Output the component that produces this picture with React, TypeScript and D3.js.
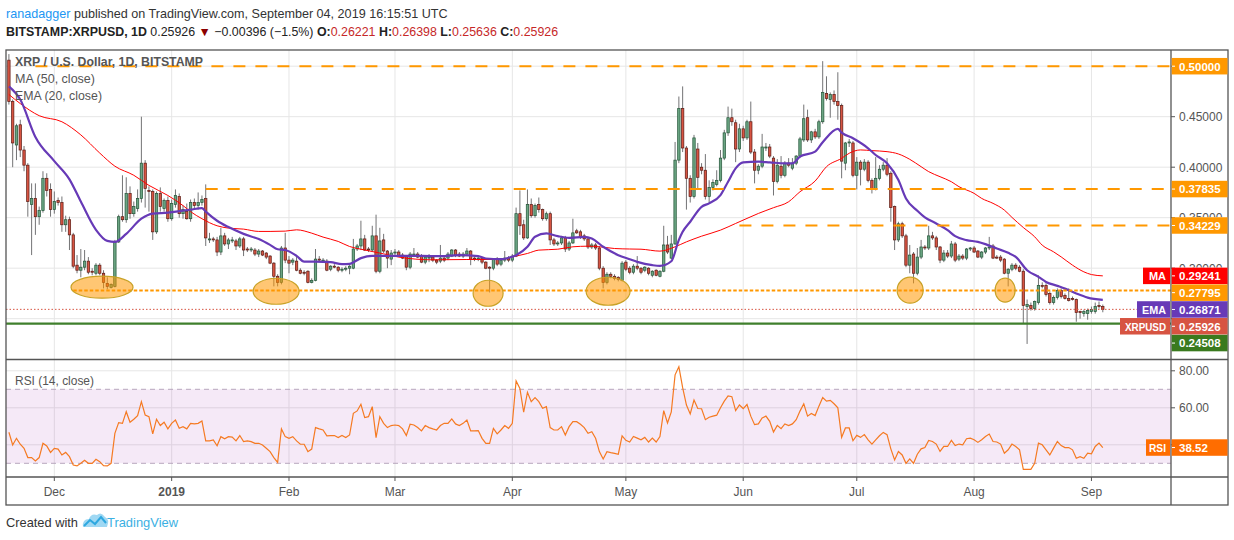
import React from 'react';
import * as d3 from 'd3';

// ---------- DATA ----------
const START = Date.UTC(2018, 10, 19); // first visible daily candle: 19 Nov 2018
const DAY = 86400000;

// daily candles [open, high, low, close]
const candleOHLC: number[][] = [
  [.506, .512, .462, .465], [.465, .467, .400, .424], [.422, .443, .407, .441], [.442, .447, .410, .417],
  [.417, .421, .396, .402], [.402, .404, .351, .366], [.363, .384, .313, .369], [.369, .384, .333, .351],
  [.351, .361, .343, .357], [.357, .396, .355, .389], [.389, .394, .371, .377], [.378, .384, .351, .358],
  [.358, .376, .354, .366], [.367, .370, .362, .365], [.365, .371, .336, .343], [.343, .352, .336, .348],
  [.348, .351, .318, .333], [.333, .335, .300, .302], [.303, .313, .295, .298], [.298, .319, .291, .301],
  [.301, .318, .298, .307], [.307, .311, .294, .296], [.297, .300, .293, .296], [.295, .305, .293, .303],
  [.303, .305, .293, .295], [.295, .298, .280, .286], [.285, .291, .279, .282], [.281, .285, .280, .284],
  [.282, .328, .281, .326], [.326, .353, .325, .351], [.351, .392, .346, .348], [.348, .390, .345, .374],
  [.374, .381, .349, .354], [.354, .366, .351, .361], [.359, .378, .356, .369], [.369, .450, .365, .404],
  [.404, .407, .360, .379], [.377, .381, .356, .376], [.376, .378, .328, .336], [.336, .376, .334, .374],
  [.374, .380, .356, .361], [.359, .369, .356, .367], [.367, .371, .346, .349], [.349, .368, .347, .364],
  [.363, .378, .360, .372], [.371, .374, .350, .354], [.354, .362, .349, .358], [.356, .364, .348, .349],
  [.349, .368, .346, .365], [.365, .369, .358, .362], [.362, .375, .358, .365], [.365, .372, .362, .368],
  [.369, .383, .322, .330], [.329, .335, .325, .329], [.329, .331, .326, .328], [.328, .331, .312, .316],
  [.316, .340, .313, .332], [.332, .335, .322, .324], [.324, .330, .319, .328], [.328, .331, .325, .328],
  [.327, .329, .318, .322], [.322, .331, .320, .329], [.329, .331, .312, .318], [.319, .321, .316, .318],
  [.319, .321, .316, .319], [.318, .320, .312, .314], [.314, .319, .311, .317], [.317, .318, .312, .313],
  [.315, .316, .309, .311], [.312, .313, .304, .305], [.305, .306, .282, .292], [.292, .294, .282, .286],
  [.286, .322, .284, .320], [.320, .335, .305, .308], [.308, .312, .295, .305], [.306, .310, .303, .308],
  [.307, .312, .297, .298], [.298, .300, .294, .295], [.296, .298, .293, .295], [.297, .298, .285, .286],
  [.286, .290, .285, .288], [.288, .319, .287, .309], [.309, .312, .306, .308], [.308, .310, .306, .308],
  [.307, .309, .297, .298], [.299, .303, .297, .302], [.302, .304, .300, .301], [.301, .302, .296, .298],
  [.298, .301, .296, .299], [.299, .302, .297, .300], [.300, .303, .294, .302], [.300, .329, .299, .319],
  [.319, .324, .317, .322], [.322, .347, .318, .329], [.329, .333, .317, .318], [.319, .321, .316, .318],
  [.318, .342, .316, .332], [.332, .353, .295, .297], [.297, .340, .295, .327], [.328, .334, .315, .317],
  [.317, .318, .300, .310], [.309, .318, .303, .315], [.315, .319, .312, .316], [.316, .318, .311, .312],
  [.313, .315, .309, .310], [.312, .313, .298, .301], [.301, .316, .299, .314], [.313, .320, .311, .314],
  [.314, .316, .310, .311], [.312, .314, .305, .306], [.306, .313, .304, .311], [.310, .314, .306, .311],
  [.311, .312, .306, .308], [.308, .309, .304, .306], [.307, .323, .305, .310], [.310, .312, .306, .308],
  [.310, .316, .308, .314], [.312, .319, .311, .318], [.318, .319, .311, .313], [.314, .316, .311, .312],
  [.312, .316, .310, .314], [.314, .320, .312, .317], [.317, .318, .303, .309], [.310, .311, .307, .309],
  [.309, .312, .307, .310], [.310, .311, .304, .306], [.306, .307, .299, .300], [.301, .302, .276, .300],
  [.300, .310, .298, .309], [.309, .311, .302, .304], [.304, .309, .302, .308], [.308, .317, .306, .310],
  [.310, .312, .306, .308], [.308, .314, .306, .312], [.312, .360, .311, .354], [.354, .377, .333, .342],
  [.343, .348, .328, .330], [.330, .378, .329, .363], [.363, .369, .350, .352], [.352, .364, .350, .362],
  [.363, .370, .355, .358], [.358, .359, .347, .349], [.349, .356, .347, .354], [.354, .356, .323, .328],
  [.328, .330, .322, .324], [.324, .327, .322, .325], [.325, .332, .323, .330], [.330, .332, .316, .319],
  [.319, .327, .317, .325], [.325, .349, .324, .335], [.337, .339, .334, .335], [.336, .338, .329, .331],
  [.332, .334, .327, .329], [.329, .330, .319, .321], [.321, .325, .319, .323], [.323, .325, .318, .320],
  [.320, .322, .298, .300], [.300, .302, .280, .286], [.286, .296, .284, .294], [.294, .296, .290, .292],
  [.292, .294, .288, .290], [.291, .292, .287, .289], [.288, .307, .287, .305], [.306, .308, .297, .299],
  [.300, .302, .294, .296], [.296, .304, .294, .302], [.302, .312, .298, .300], [.300, .301, .294, .296],
  [.298, .302, .296, .301], [.300, .301, .293, .295], [.293, .298, .291, .297], [.298, .299, .292, .293],
  [.292, .298, .291, .297], [.297, .342, .296, .323], [.323, .332, .314, .316], [.310, .333, .309, .324],
  [.324, .425, .323, .407], [.407, .470, .404, .458], [.458, .480, .415, .419], [.419, .421, .358, .389],
  [.389, .392, .365, .371], [.371, .432, .369, .429], [.418, .424, .379, .390], [.400, .404, .393, .397],
  [.397, .413, .368, .371], [.371, .387, .364, .380], [.380, .388, .377, .385], [.383, .397, .381, .387],
  [.387, .417, .385, .409], [.409, .437, .407, .434], [.434, .460, .431, .449], [.449, .458, .441, .445],
  [.444, .447, .405, .418], [.418, .443, .415, .438], [.438, .441, .426, .429], [.429, .447, .427, .445],
  [.445, .465, .413, .415], [.415, .418, .384, .397], [.397, .403, .393, .401], [.401, .433, .399, .420],
  [.419, .424, .416, .420], [.420, .423, .409, .411], [.409, .411, .372, .386], [.386, .408, .384, .402],
  [.401, .411, .389, .392], [.392, .406, .390, .404], [.404, .409, .400, .402], [.399, .409, .397, .404],
  [.404, .412, .402, .411], [.411, .430, .409, .428], [.427, .462, .425, .448], [.449, .457, .425, .427],
  [.427, .436, .424, .435], [.435, .438, .428, .430], [.430, .447, .428, .445], [.445, .505, .443, .474],
  [.473, .490, .466, .468], [.467, .474, .449, .472], [.472, .476, .462, .465], [.465, .494, .447, .461],
  [.461, .463, .389, .406], [.404, .425, .397, .424], [.424, .428, .420, .425], [.424, .426, .390, .392],
  [.392, .410, .378, .405], [.405, .407, .382, .398], [.398, .408, .396, .405], [.405, .407, .385, .387],
  [.387, .389, .374, .378], [.379, .410, .377, .389], [.389, .402, .387, .398], [.398, .405, .396, .402],
  [.402, .409, .391, .393], [.394, .396, .346, .360], [.361, .362, .318, .328], [.328, .346, .326, .344],
  [.344, .346, .330, .332], [.332, .334, .301, .303], [.303, .323, .295, .313], [.314, .316, .285, .295],
  [.295, .320, .293, .311], [.311, .328, .309, .321], [.321, .323, .318, .320], [.320, .342, .318, .332],
  [.332, .336, .328, .330], [.330, .332, .318, .321], [.321, .322, .305, .308], [.308, .318, .306, .315],
  [.315, .318, .310, .312], [.312, .327, .310, .324], [.324, .326, .306, .308], [.309, .314, .307, .312],
  [.312, .314, .308, .310], [.310, .320, .308, .319], [.319, .321, .317, .320], [.320, .322, .315, .316],
  [.317, .318, .310, .311], [.311, .317, .309, .316], [.316, .321, .314, .320], [.320, .331, .318, .321],
  [.322, .324, .309, .310], [.311, .313, .309, .310], [.311, .313, .306, .308], [.309, .310, .294, .295],
  [.295, .300, .282, .299], [.299, .305, .297, .303], [.303, .305, .298, .300], [.301, .303, .296, .297],
  [.297, .299, .245, .263], [.262, .269, .225, .264], [.263, .266, .258, .260], [.260, .268, .258, .267],
  [.266, .293, .264, .283], [.283, .286, .280, .282], [.283, .285, .272, .274], [.275, .277, .264, .266],
  [.266, .273, .264, .271], [.271, .280, .269, .278], [.278, .280, .270, .272], [.273, .275, .269, .270],
  [.270, .280, .267, .268], [.270, .272, .268, .269], [.269, .270, .247, .256], [.257, .258, .250, .256],
  [.255, .259, .252, .257], [.255, .260, .249, .258], [.257, .262, .255, .259], [.257, .266, .255, .262],
  [.263, .267, .260, .262], [.26221, .26398, .25636, .25926],
];

// MA(50) line read at [day index, value]
const maPoints: [number, number][] = [
  [0, .472], [3, .463], [8, .451], [14, .445], [19, .432], [24, .414], [28, .401], [33, .392], [37, .382],
  [42, .372], [46, .362], [48, .356], [51, .349], [55, .342], [58, .3397], [62, .3387], [66, .3364],
  [69, .3364], [73, .3367], [76, .338], [80, .3347], [83, .3308], [87, .3265], [90, .3215], [93, .3188],
  [96, .3165], [99, .3142], [103, .311], [112, .3083], [121, .3086], [130, .3086], [133, .3112],
  [137, .3146], [140, .3179], [145, .3188], [149, .3212], [153, .3218], [156, .3212], [160, .3195],
  [164, .319], [167, .3188], [172, .3169], [176, .3212], [179, .3261], [183, .3317], [188, .3377],
  [192, .3443], [195, .3493], [198, .3542], [202, .3599], [206, .3658], [209, .3757], [213, .3863],
  [216, .4005], [220, .4088], [222, .4138], [225, .4171], [228, .4164], [232, .4154], [235, .4131],
  [238, .4078], [241, .4005], [243, .3956], [246, .3906], [249, .3856], [251, .3807], [255, .3741],
  [257, .3691], [260, .3642], [263, .3575], [265, .3503], [268, .3403], [271, .3311], [273, .3228],
  [276, .3162], [278, .3112], [281, .303], [284, .2964], [286, .2937], [289, .29241],
];

// EMA(20) line read at [day index, value]
const emaPoints: [number, number][] = [
  [0, .480], [3, .467], [7, .430], [12, .406], [16, .388], [19, .366], [23, .338], [26, .327], [28, .326],
  [31, .334], [35, .349], [38, .354], [42, .355], [46, .357], [48, .358], [51, .3595], [52, .356],
  [55, .347], [58, .3407], [62, .334], [66, .3288], [69, .3231], [71, .3188], [73, .318], [76, .3122],
  [78, .3066], [81, .3066], [85, .306], [88, .304], [90, .3043], [93, .310], [96, .3122], [99, .3122],
  [105, .3122], [109, .3122], [114, .3119], [119, .3129], [124, .3119], [126, .3096], [130, .3089],
  [132, .3103], [134, .3129], [137, .3212], [139, .3311], [142, .3344], [145, .3317], [148, .3301],
  [152, .3311], [154, .3294], [157, .3212], [161, .3129], [164, .3089], [166, .3063], [170, .303],
  [172, .3023], [175, .3069], [177, .328], [178, .336], [180, .346], [183, .3608], [185, .3642],
  [188, .3724], [190, .3856], [192, .3989], [194, .4048], [198, .4055], [201, .4048], [205, .4038],
  [207, .4038], [209, .4105], [213, .4154], [215, .4247], [219, .4379], [220, .4343], [223, .4286],
  [227, .4187], [229, .4121], [232, .4038], [235, .3873], [237, .3691], [240, .3569], [242, .3503],
  [245, .3443], [248, .3377], [250, .3317], [253, .3278], [256, .3261], [258, .3238], [261, .3195],
  [264, .3152], [266, .3112], [269, .298], [272, .2914], [274, .2864], [277, .2825], [279, .2798],
  [282, .2749], [285, .2709], [289, .26871],
];

// RSI(14) one value per candle
const rsiValues: number[] = [
  46.8, 39.9, 43.5, 40.3, 38.1, 33.1, 33.1, 31.3, 33.1, 40.8,
  39.4, 35.9, 38.1, 37.7, 34.5, 35.9, 33.6, 29.1, 28.6, 30.0,
  31.6, 30.0, 30.0, 32.2, 30.9, 28.7, 28.6, 30.0, 46.2, 52.0,
  51.6, 57.9, 52.2, 53.8, 55.8, 63.3, 56.1, 55.2, 45.9, 53.8,
  50.4, 52.2, 48.6, 51.6, 53.4, 48.9, 49.8, 48.6, 51.6, 51.3,
  51.6, 52.9, 42.1, 42.1, 42.6, 39.5, 44.4, 43.2, 44.4, 44.2,
  42.1, 45.0, 41.7, 42.1, 41.7, 40.8, 40.8, 39.9, 38.1, 36.3,
  33.1, 30.5, 48.6, 44.4, 43.5, 44.4, 42.1, 40.3, 40.3, 36.3,
  37.7, 49.3, 48.6, 48.0, 44.8, 45.0, 45.0, 43.9, 45.0, 43.9,
  45.3, 57.0, 58.3, 61.9, 54.7, 55.2, 60.6, 43.9, 55.2, 51.6,
  49.3, 50.4, 50.7, 50.4, 48.6, 45.0, 51.1, 50.7, 49.3, 47.5,
  50.4, 49.3, 48.6, 48.0, 50.4, 51.6, 51.6, 54.0, 51.3, 50.4,
  51.6, 53.4, 47.5, 47.5, 47.7, 43.5, 40.8, 40.8, 48.9, 45.9,
  48.0, 50.4, 48.9, 51.6, 74.5, 70.5, 57.6, 68.4, 63.3, 65.5,
  63.3, 59.7, 60.6, 49.3, 48.0, 48.0, 49.8, 45.3, 49.8, 52.5,
  52.5, 51.1, 49.3, 46.2, 47.1, 43.5, 36.3, 32.3, 36.3, 35.8,
  35.4, 34.9, 44.8, 42.4, 41.5, 44.5, 43.6, 42.7, 44.0, 41.5,
  43.6, 41.5, 44.5, 58.5, 51.8, 57.8, 77.8, 82.2, 70.9, 61.5,
  56.7, 64.2, 59.6, 59.5, 53.6, 54.9, 55.5, 56.0, 60.0, 63.6,
  66.4, 66.0, 58.5, 61.5, 59.6, 61.8, 55.5, 50.9, 51.3, 54.5,
  55.5, 52.7, 46.9, 50.5, 48.7, 51.3, 50.4, 51.3, 53.6, 58.2,
  62.2, 55.5, 56.9, 55.8, 60.9, 65.5, 63.6, 64.0, 62.2, 60.0,
  44.0, 49.1, 49.1, 42.2, 45.1, 44.0, 45.5, 42.7, 40.4, 42.7,
  44.9, 46.7, 45.5, 37.8, 31.8, 36.4, 34.5, 30.0, 32.4, 30.0,
  34.9, 37.8, 38.5, 42.4, 41.8, 40.4, 36.4, 39.1, 39.1, 42.4,
  39.6, 40.4, 40.0, 43.3, 43.6, 42.7, 41.3, 42.7, 44.5, 45.8,
  41.8, 41.5, 40.4, 35.5, 37.3, 40.4, 39.1, 37.3, 26.7, 26.7,
  26.7, 30.0, 40.9, 40.0, 37.3, 34.5, 38.2, 41.8, 39.6, 38.5,
  38.5, 37.3, 32.7, 33.6, 32.7, 35.5, 35.1, 39.1, 40.9, 38.52,
];

const priceTicks = [0.25, 0.30, 0.35, 0.40, 0.45, 0.50];
const rsiTicks = [40, 60, 80];

// horizontal drawn levels: [price, first day]
const dashedLevels: [number, number][] = [[0.5, 7], [0.37835, 52], [0.34229, 193]];
const dottedLevel: [number, number] = [0.27795, 17];
const supportLevel = 0.24508;
const lastPrice = 0.25926;
const lastRsi = 38.52;

// highlighted touches: [day, price, rx, ry]
const touchEllipses: [number, number, number, number][] = [
  [24.6, 0.2812, 31, 11], [70.6, 0.2772, 23, 13], [126.6, 0.2752, 15, 13],
  [158.3, 0.2772, 22, 14], [238.1, 0.2782, 13, 13], [263.2, 0.2782, 10, 12],
];

const axisTags = [
  { value: 0.5, text: '0.50000', color: '#ff9800', tag: '', tagW: 0, tagT: 0 },
  { value: 0.37835, text: '0.37835', color: '#ff9800', tag: '', tagW: 0, tagT: 0 },
  { value: 0.34229, text: '0.34229', color: '#ff9800', tag: '', tagW: 0, tagT: 0 },
  { value: 0.29241, text: '0.29241', color: '#ff0000', tag: 'MA', tagW: 27, tagT: 17 },
  { value: 0.27795, text: '0.27795', color: '#ff9800', tag: '', tagW: 0, tagT: 0 },
  { value: 0.26871, text: '0.26871', color: '#673ab7', tag: 'EMA', tagW: 33, tagT: 24 },
  { value: 0.25926, text: '0.25926', color: '#d75442', tag: 'XRPUSD', tagW: 50, tagT: 41 },
  { value: 0.24508, text: '0.24508', color: '#3a7a1e', tag: '', tagW: 0, tagT: 0 },
];

// ---------- LAYOUT ----------
const W = 1234, H = 540;
const L = 6, R = 1228, AX = 1171;
const TOP = 50, SEP1 = 359.5, SEP2 = 477, BOT = 505;
const FONT = '"Liberation Sans", Arial, sans-serif';

const dayDate = (i: number) => new Date(START + i * DAY);
const x = d3.scaleUtc().domain([dayDate(0), dayDate(289)]).range([8.9, 1102.8]);
const xd = (i: number) => x(dayDate(i));
const y = d3.scaleLinear().domain([0.30, 0.50]).range([268.2, 66.2]);
const ry = d3.scaleLinear().domain([30, 70]).range([463.3, 389.3]);

const months = d3.utcMonth.range(dayDate(0), dayDate(300)).filter(m => x(m) < AX - 10);
const monthFmt = (m: Date) => (m.getUTCMonth() === 0 ? d3.utcFormat('%Y')(m) : d3.utcFormat('%b')(m));

const lineGen = d3.line<[number, number]>().x(d => xd(d[0])).y(d => y(d[1])).curve(d3.curveMonotoneX);
const rsiLine = d3.line<number>().x((_, i) => xd(i)).y(v => ry(v));

// label stacking
const LH = 16.5;
const stacked = (() => {
  const items = axisTags.map(t => ({ ...t, yy: y(t.value) })).sort((a, b) => a.yy - b.yy);
  for (let i = 1; i < items.length; i++) {
    if (items[i].yy < items[i - 1].yy + LH + 0.3) items[i].yy = items[i - 1].yy + LH + 0.3;
  }
  return items;
})();
const rsiBox = { top: ry(lastRsi) - LH / 2, bottom: ry(lastRsi) + LH / 2 };

// visible part of an axis tick label given the tag boxes (returns clip bottom or null when hidden)
function tickClip(yy: number, boxes: { top: number; bottom: number }[]): number | null {
  let clipBottom = yy + 8;
  for (const b of boxes) {
    if (b.bottom > yy - 7 && b.top < yy + 7) {
      if (b.top <= yy - 3) return null;
      clipBottom = Math.min(clipBottom, b.top);
    }
  }
  return clipBottom;
}
const priceBoxes = stacked.map(t => ({ top: t.yy - LH / 2, bottom: t.yy + LH / 2 }));

export default function App() {
  const bw = 2.4;
  return (
    <svg width={W} height={H} style={{ position: 'absolute', left: 0, top: 0, background: '#fff' }}
      fontFamily={FONT}>
      <defs>
        <clipPath id="pp"><rect x={L} y={TOP} width={AX - L} height={SEP1 - TOP} /></clipPath>
        <clipPath id="rp"><rect x={L} y={SEP1} width={AX - L} height={SEP2 - SEP1} /></clipPath>
      </defs>
      <rect x={0} y={0} width={W} height={H} fill="#fff" />

      {/* header */}
      <text x={6} y={18} fontSize={12.6}>
        <tspan fill="#2196f3">ranadagger</tspan>
        <tspan fill="#333"> published on TradingView.com, September 04, 2019 16:15:51 UTC</tspan>
      </text>
      <text x={6} y={36} fontSize={12.4} fill="#222">
        <tspan fontWeight="bold">BITSTAMP:XRPUSD, 1D</tspan>
        <tspan> 0.25926 </tspan>
        <tspan fill="#8b0000">▼</tspan>
        <tspan> −0.00396 (−1.5%) </tspan>
        <tspan fontWeight="bold">O:</tspan><tspan fill="#c62828">0.26221</tspan>
        <tspan fontWeight="bold"> H:</tspan><tspan fill="#c62828">0.26398</tspan>
        <tspan fontWeight="bold"> L:</tspan><tspan fill="#c62828">0.25636</tspan>
        <tspan fontWeight="bold"> C:</tspan><tspan fill="#c62828">0.25926</tspan>
      </text>

      {/* grid */}
      <g stroke="#e6e6e6" strokeWidth={1}>
        {months.map(m => (
          <line key={+m} x1={x(m)} x2={x(m)} y1={TOP} y2={SEP2} />
        ))}
        {priceTicks.map(p => (
          <line key={p} x1={L} x2={AX} y1={y(p)} y2={y(p)} />
        ))}
        {rsiTicks.map(v => (
          <line key={v} x1={L} x2={AX} y1={ry(v)} y2={ry(v)} />
        ))}
      </g>

      {/* RSI band */}
      <rect x={L} y={ry(70)} width={AX - L} height={ry(30) - ry(70)} fill="#9c27b0" fillOpacity={0.1} />
      <g stroke="#b7a7bd" strokeDasharray="5,4" strokeWidth={1}>
        <line x1={L} x2={AX} y1={ry(70)} y2={ry(70)} />
        <line x1={L} x2={AX} y1={ry(30)} y2={ry(30)} />
      </g>
      <g clipPath="url(#rp)">
        <path d={rsiLine(rsiValues) || ''} fill="none" stroke="#f57a22" strokeWidth={1.2} />
      </g>

      {/* price pane */}
      <g clipPath="url(#pp)">
        {candleOHLC.map((c, i) => {
          const [o, h, l, cl] = c;
          const up = cl >= o;
          const cx = xd(i);
          const top = y(Math.max(o, cl));
          const hh = Math.max(1, Math.abs(y(o) - y(cl)));
          return (
            <g key={i}>
              <line x1={cx} x2={cx} y1={y(h)} y2={y(l)} stroke="#737375" strokeWidth={1} />
              <rect x={cx - bw / 2} y={top} width={bw} height={hh}
                fill={up ? '#6ba583' : '#d75442'} stroke={up ? '#225437' : '#5b1a13'} strokeWidth={0.7} />
            </g>
          );
        })}
        <path d={lineGen(maPoints) || ''} fill="none" stroke="#ff0000" strokeWidth={1} />
        <path d={lineGen(emaPoints) || ''} fill="none" stroke="#673ab7" strokeWidth={2.2} />

        {dashedLevels.map(([p, d0]) => (
          <line key={p} x1={xd(d0)} x2={AX} y1={y(p)} y2={y(p)} stroke="#ff9800" strokeWidth={2}
            strokeDasharray="12,10" />
        ))}
        <line x1={xd(dottedLevel[1])} x2={AX} y1={y(dottedLevel[0])} y2={y(dottedLevel[0])}
          stroke="#ff9800" strokeWidth={2} strokeDasharray="3.5,2" />
        <line x1={L} x2={AX} y1={y(supportLevel)} y2={y(supportLevel)} stroke="#3f7f2c" strokeWidth={2.4} />
        <line x1={L} x2={AX} y1={y(lastPrice)} y2={y(lastPrice)} stroke="#d75442" strokeWidth={1}
          strokeDasharray="1.5,2" />
        {touchEllipses.map(([d, p, rx, ryy], i) => (
          <ellipse key={i} cx={xd(d)} cy={y(p)} rx={rx} ry={ryy} fill="#ff9800" fillOpacity={0.55}
            stroke="#c9a227" strokeWidth={1.2} />
        ))}
      </g>

      {/* legends */}
      <text x={15} y={66} fontSize={13} fill="#555" fontWeight="bold" textLength={188}
        lengthAdjust="spacingAndGlyphs">XRP / U.S. Dollar, 1D, BITSTAMP</text>
      <text x={15} y={83} fontSize={13} fill="#555" textLength={80} lengthAdjust="spacingAndGlyphs">MA (50, close)</text>
      <text x={15} y={100} fontSize={13} fill="#555" textLength={87} lengthAdjust="spacingAndGlyphs">EMA (20, close)</text>
      <text x={15} y={385} fontSize={13} fill="#555" textLength={79} lengthAdjust="spacingAndGlyphs">RSI (14, close)</text>

      {/* frame */}
      <g stroke="#555" strokeWidth={1.3} fill="none">
        <rect x={L} y={TOP} width={R - L} height={BOT - TOP} />
        <line x1={AX} x2={AX} y1={TOP} y2={BOT} />
        <line x1={L} x2={R} y1={SEP1} y2={SEP1} />
        <line x1={L} x2={R} y1={SEP2} y2={SEP2} />
      </g>

      {/* time axis */}
      {months.map(m => (
        <g key={+m}>
          <line x1={x(m)} x2={x(m)} y1={SEP2} y2={SEP2 + 4} stroke="#555" />
          <text x={x(m)} y={496} fontSize={12} fill="#555" textAnchor="middle"
            fontWeight={m.getUTCMonth() === 0 ? 'bold' : 'normal'}>{monthFmt(m)}</text>
        </g>
      ))}

      {/* price axis ticks */}
      {priceTicks.map(p => {
        const cb = tickClip(y(p), priceBoxes);
        return (
          <g key={p}>
            <line x1={AX} x2={AX + 4} y1={y(p)} y2={y(p)} stroke="#555" />
            {cb !== null && (
              <g>
                <clipPath id={`tc${p}`}><rect x={AX + 2} y={y(p) - 9} width={60} height={cb - (y(p) - 9)} /></clipPath>
                <text x={1179} y={y(p) + 4.5} fontSize={12} fill="#555" clipPath={`url(#tc${p})`}>{p.toFixed(5)}</text>
              </g>
            )}
          </g>
        );
      })}
      {rsiTicks.map(v => {
        const cb = tickClip(ry(v), [rsiBox]);
        return (
          <g key={v}>
            <line x1={AX} x2={AX + 4} y1={ry(v)} y2={ry(v)} stroke="#555" />
            {cb !== null && (
              <text x={1179} y={ry(v) + 4.5} fontSize={12} fill="#555">{v.toFixed(2)}</text>
            )}
          </g>
        );
      })}

      {/* price tags */}
      {stacked.map(t => (
        <g key={t.text}>
          {t.tag && (
            <g>
              <rect x={AX - 1 - t.tagW} y={t.yy - LH / 2} width={t.tagW} height={LH} fill={t.color} />
              <text x={AX - 5 - t.tagT} y={t.yy + 4.3} fontSize={11.5} fontWeight="bold" fill="#fff"
                textLength={t.tagT} lengthAdjust="spacingAndGlyphs">{t.tag}</text>
            </g>
          )}
          <rect x={AX + 0.7} y={t.yy - LH / 2} width={R - AX - 1.2} height={LH} fill={t.color} />
          <line x1={AX + 1} x2={AX + 4} y1={t.yy} y2={t.yy} stroke="#fff" />
          <text x={1179} y={t.yy + 4.3} fontSize={11.5} fontWeight="bold" fill="#fff">{t.text}</text>
        </g>
      ))}
      <g>
        <rect x={1146} y={rsiBox.top} width={24} height={LH} fill="#ff6d00" />
        <text x={1149} y={ry(lastRsi) + 4.3} fontSize={11.5} fontWeight="bold" fill="#fff"
          textLength={17} lengthAdjust="spacingAndGlyphs">RSI</text>
        <rect x={AX + 0.7} y={rsiBox.top} width={R - AX - 1.2} height={LH} fill="#ff6d00" />
        <line x1={AX + 1} x2={AX + 4} y1={ry(lastRsi)} y2={ry(lastRsi)} stroke="#fff" />
        <text x={1179} y={ry(lastRsi) + 4.3} fontSize={11.5} fontWeight="bold" fill="#fff">{lastRsi.toFixed(2)}</text>
      </g>

      {/* footer */}
      <text x={6} y={527} fontSize={13.5} fill="#333" textLength={72} lengthAdjust="spacingAndGlyphs">Created with</text>
      <g>
        <path d="M83,527 Q82,519 89,519 Q91,513 97,515 Q101,511 105,517 Q110,519 107,527 Z" fill="#9fd8f3" />
        <path d="M84,526 L90,520 L95,524 L101,517 L106,523" fill="none" stroke="#2ea8e0" strokeWidth={2} />
      </g>
      <text x={107} y={527} fontSize={13.5} fill="#3bb0e3" textLength={71} lengthAdjust="spacingAndGlyphs">TradingView</text>
    </svg>
  );
}
